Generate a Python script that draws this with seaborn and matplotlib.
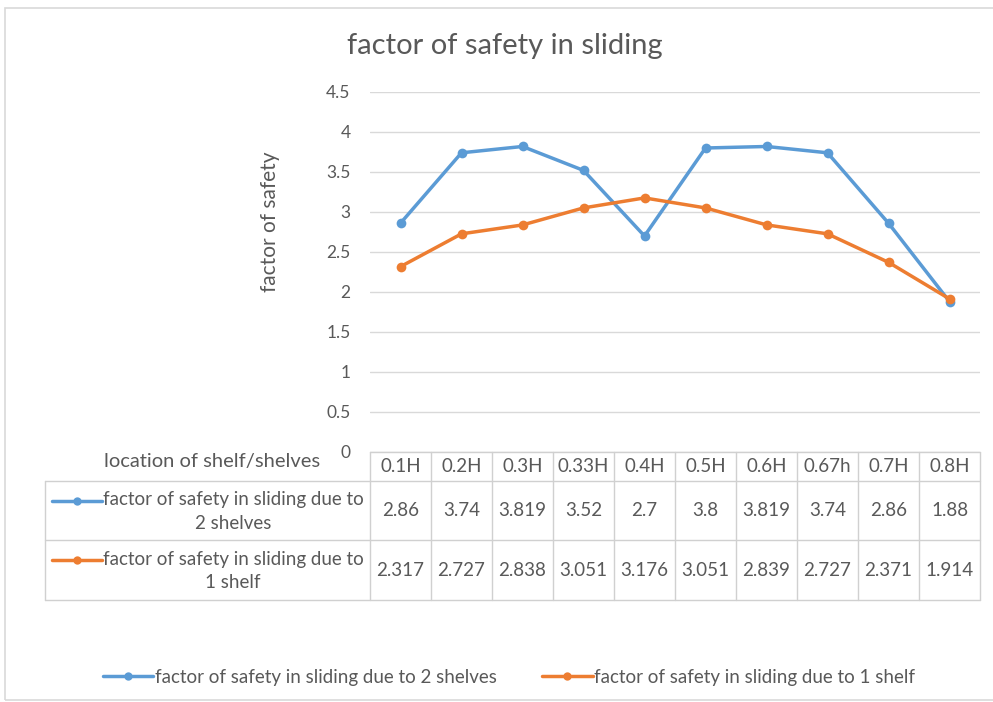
import numpy as np
import pandas as pd
import matplotlib
matplotlib.use("Agg")
import matplotlib.pyplot as plt
from matplotlib.lines import Line2D
from matplotlib.patches import Rectangle
from matplotlib.transforms import blended_transform_factory
import seaborn as sns

locations = ["0.1H", "0.2H", "0.3H", "0.33H", "0.4H", "0.5H", "0.6H", "0.67h", "0.7H", "0.8H"]
two_shelves = [2.86, 3.74, 3.819, 3.52, 2.7, 3.8, 3.819, 3.74, 2.86, 1.88]
one_shelf = [2.317, 2.727, 2.838, 3.051, 3.176, 3.051, 2.839, 2.727, 2.371, 1.914]
series_names = ["factor of safety in sliding due to 2 shelves",
                "factor of safety in sliding due to 1 shelf"]
row_labels = ["factor of safety in sliding due to\n2 shelves",
              "factor of safety in sliding due to\n1 shelf"]
y_ticks = [0, 0.5, 1, 1.5, 2, 2.5, 3, 3.5, 4, 4.5]

df = pd.DataFrame({
    "location": locations * 2,
    "fos": two_shelves + one_shelf,
    "series": [series_names[0]] * len(locations) + [series_names[1]] * len(locations),
})

sns.set_theme(style="white")
plt.rcParams["font.family"] = ["Lato", "DejaVu Sans"]
txt = "#595959"
grid = "#D9D9D9"
colors = ["#5B9BD5", "#ED7D31"]

W, H = 993, 702
fig = plt.figure(figsize=(W / 100, H / 100), dpi=100)

def fx(px):
    return px / W

def fy(py):
    return 1 - py / H

ax = fig.add_axes([fx(370), fy(452), (980 - 370) / W, 360 / H])
sns.lineplot(data=df, x="location", y="fos", hue="series", palette=colors,
             marker="o", markersize=7, markeredgewidth=0, linewidth=2.5,
             sort=False, ax=ax, legend=False)

ax.set_xlim(-0.5, len(locations) - 0.5)
ax.set_ylim(0, 4.5)
ax.set_yticks(y_ticks)
ax.set_yticklabels([f"{v:g}" for v in y_ticks])
ax.tick_params(axis="y", length=0, pad=14, labelsize=12.5, labelcolor=txt)
ax.set_xticks([])
ax.set_xlabel("")
ax.set_ylabel("")
ax.yaxis.grid(True, color=grid, lw=1)
for s in ax.spines.values():
    s.set_visible(False)

# title and y label
fig.text(fx(505), fy(46), "factor of safety in sliding", ha="center", va="center",
         fontsize=21, color=txt)
fig.text(fx(270), fy(222), "factor of safety", rotation=90, ha="center", va="center",
         fontsize=15, color=txt)

# data table under the axis
bt = blended_transform_factory(ax.transData, fig.transFigure)
top, r1, r2, bot = 452, 481, 540, 600
lc = "#D0D0D0"
n = len(locations)
for yy in [top, r1, r2, bot]:
    x0 = 370 if yy == top else 45
    fig.add_artist(Line2D([fx(x0), fx(980)], [fy(yy), fy(yy)], color=lc, lw=1))
fig.add_artist(Line2D([fx(45), fx(45)], [fy(r1), fy(bot)], color=lc, lw=1))
for i in range(n + 1):
    ax.add_line(Line2D([i - 0.5, i - 0.5], [fy(top), fy(bot)], transform=bt,
                       color=lc, lw=1, clip_on=False))

cell_fs = 13.5
for i, loc in enumerate(locations):
    ax.text(i, fy((top + r1) / 2), loc, transform=bt, ha="center", va="center",
            fontsize=cell_fs, color=txt, clip_on=False)
    ax.text(i, fy((r1 + r2) / 2), f"{two_shelves[i]:g}", transform=bt, ha="center",
            va="center", fontsize=cell_fs, color=txt, clip_on=False)
    ax.text(i, fy((r2 + bot) / 2), f"{one_shelf[i]:g}", transform=bt, ha="center",
            va="center", fontsize=cell_fs, color=txt, clip_on=False)

fig.text(fx(212), fy(462), "location of shelf/shelves", ha="center", va="center",
         fontsize=14.5, color=txt)
for k, (lab, yy) in enumerate(zip(row_labels, [r1, r2])):
    fig.text(fx(233), fy((yy + (r2 if k == 0 else bot)) / 2 + 1), lab, ha="center",
             va="center", fontsize=cell_fs, color=txt, linespacing=1.45,
             multialignment="center")
    ky = fy(yy + 20)
    fig.add_artist(Line2D([fx(52), fx(102)], [ky, ky], color=colors[k], lw=2.5))
    fig.add_artist(Line2D([fx(77)], [ky], color=colors[k], marker="o", markersize=6,
                          markeredgewidth=0))

# legend at the bottom
handles = [Line2D([], [], color=c, lw=2.5, marker="o", markersize=6, markeredgewidth=0)
           for c in colors]
fig.legend(handles, series_names, loc="center", bbox_to_anchor=(fx(509), fy(677)),
           ncol=2, frameon=False, fontsize=13.5, labelcolor=txt, handlelength=2.7,
           handletextpad=0.1, columnspacing=2.4)

# chart border
fig.add_artist(Rectangle((fx(5), fy(700)), fx(1200), fy(8) - fy(700), fill=False,
                         ec=grid, lw=1.2))

fig.savefig("out.png", dpi=100)
